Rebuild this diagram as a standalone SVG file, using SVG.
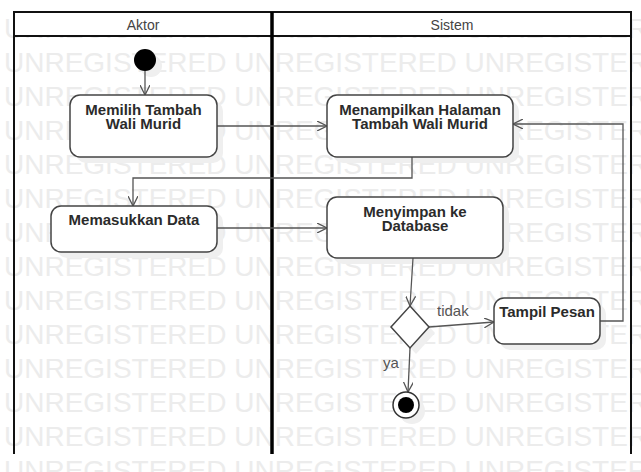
<svg xmlns="http://www.w3.org/2000/svg" width="641" height="472" viewBox="0 0 641 472">
<style>
.wm{font-family:"Liberation Sans",Arial,sans-serif;font-size:28px;fill:#ececec}
.lane{fill:none;stroke:#111;stroke-width:2}
.hdr{fill:#fff;stroke:#111;stroke-width:2}
.ht{font-family:"Liberation Sans",Arial,sans-serif;font-size:14px;fill:#444;text-anchor:middle}
.box{fill:#fff;stroke:#444;stroke-width:1.5}
.sh{fill:#efefef}
.nt{font-family:"Liberation Sans",Arial,sans-serif;font-size:15px;font-weight:bold;fill:#2b2b2b;text-anchor:middle}
.lbl{font-family:"Liberation Sans",Arial,sans-serif;font-size:15px;fill:#555}
.cn{fill:none;stroke:#555;stroke-width:1.3}
</style>
<defs>
<marker id="arr" viewBox="0 0 10 10" refX="10" refY="5" markerWidth="10" markerHeight="10" markerUnits="userSpaceOnUse" orient="auto">
<path d="M0,0 L10,5 L0,10" fill="none" stroke="#555" stroke-width="1.3"/>
</marker>
</defs>
<rect width="641" height="472" fill="#fff"/>
<g id="watermark">
<text class="wm" x="4" y="38">UNREGISTERED UNREGISTERED UNREGISTERED</text>
<text class="wm" x="4" y="72">UNREGISTERED UNREGISTERED UNREGISTERED</text>
<text class="wm" x="4" y="106">UNREGISTERED UNREGISTERED UNREGISTERED</text>
<text class="wm" x="4" y="140">UNREGISTERED UNREGISTERED UNREGISTERED</text>
<text class="wm" x="4" y="174">UNREGISTERED UNREGISTERED UNREGISTERED</text>
<text class="wm" x="4" y="208">UNREGISTERED UNREGISTERED UNREGISTERED</text>
<text class="wm" x="4" y="242">UNREGISTERED UNREGISTERED UNREGISTERED</text>
<text class="wm" x="4" y="276">UNREGISTERED UNREGISTERED UNREGISTERED</text>
<text class="wm" x="4" y="310">UNREGISTERED UNREGISTERED UNREGISTERED</text>
<text class="wm" x="4" y="344">UNREGISTERED UNREGISTERED UNREGISTERED</text>
<text class="wm" x="4" y="378">UNREGISTERED UNREGISTERED UNREGISTERED</text>
<text class="wm" x="4" y="412">UNREGISTERED UNREGISTERED UNREGISTERED</text>
<text class="wm" x="4" y="446">UNREGISTERED UNREGISTERED UNREGISTERED</text>
<text class="wm" x="4" y="480">UNREGISTERED UNREGISTERED UNREGISTERED</text>
</g>
<g id="lane-aktor">
<path class="lane" d="M14,454 V12 H272"/>
<rect class="hdr" x="14" y="12" width="258" height="24"/>
<text class="ht" x="143" y="30">Aktor</text>
</g>
<g id="lane-sistem">
<path class="lane" d="M272,12 H631 V454"/>
<rect class="hdr" x="272" y="12" width="359" height="24"/>
<text class="ht" x="452" y="30">Sistem</text>
<line x1="272" y1="12" x2="272" y2="454" stroke="#000" stroke-width="3.5"/>
</g>
<g id="shadows">
<circle class="sh" cx="151" cy="66" r="11"/>
<rect class="sh" x="76" y="101" width="147" height="62" rx="10"/>
<rect class="sh" x="333" y="101" width="186" height="62" rx="10"/>
<rect class="sh" x="57" y="212" width="166" height="46" rx="10"/>
<rect class="sh" x="333" y="203" width="176" height="61" rx="10"/>
<rect class="sh" x="500" y="304" width="106" height="46" rx="10"/>
<polygon class="sh" points="416,312 435,333 416,354 397,333"/>
<circle class="sh" cx="412" cy="411" r="13"/>
</g>
<g id="connectors">
<line class="cn" x1="145" y1="71" x2="145" y2="95" marker-end="url(#arr)"/>
<line class="cn" x1="217" y1="126" x2="327" y2="126" marker-end="url(#arr)"/>
<polyline class="cn" points="412,157 412,178 133,178 133,206" marker-end="url(#arr)"/>
<line class="cn" x1="217" y1="228" x2="327" y2="228" marker-end="url(#arr)"/>
<line class="cn" x1="413" y1="258" x2="410" y2="306" marker-end="url(#arr)"/>
<line class="cn" x1="429" y1="327" x2="494" y2="322" marker-end="url(#arr)"/>
<polyline class="cn" points="600,321 623,321 623,124 513,124" marker-end="url(#arr)"/>
<line class="cn" x1="410" y1="348" x2="408" y2="392" marker-end="url(#arr)"/>
<text class="lbl" x="437" y="316">tidak</text>
<text class="lbl" x="383" y="368">ya</text>
</g>
<g id="start">
<circle cx="145" cy="60" r="11" fill="#000"/>
</g>
<g id="memilih">
<rect class="box" x="70" y="95" width="147" height="62" rx="10"/>
<text class="nt" x="143.5" y="115">Memilih Tambah</text>
<text class="nt" x="143.5" y="129">Wali Murid</text>
</g>
<g id="menampilkan">
<rect class="box" x="327" y="95" width="186" height="62" rx="10"/>
<text class="nt" x="420" y="115">Menampilkan Halaman</text>
<text class="nt" x="420" y="129">Tambah Wali Murid</text>
</g>
<g id="memasukkan">
<rect class="box" x="51" y="206" width="166" height="46" rx="10"/>
<text class="nt" x="134" y="225">Memasukkan Data</text>
</g>
<g id="menyimpan">
<rect class="box" x="327" y="197" width="176" height="61" rx="10"/>
<text class="nt" x="415" y="217">Menyimpan ke</text>
<text class="nt" x="415" y="231">Database</text>
</g>
<g id="decision">
<polygon class="box" points="410,306 429,327 410,348 391,327"/>
</g>
<g id="tampil">
<rect class="box" x="494" y="298" width="106" height="46" rx="10"/>
<text class="nt" x="547" y="317">Tampil Pesan</text>
</g>
<g id="end">
<circle cx="406" cy="405" r="13" fill="#fff" stroke="#333" stroke-width="1.5"/>
<circle cx="406" cy="405" r="8" fill="#000"/>
</g>
</svg>
